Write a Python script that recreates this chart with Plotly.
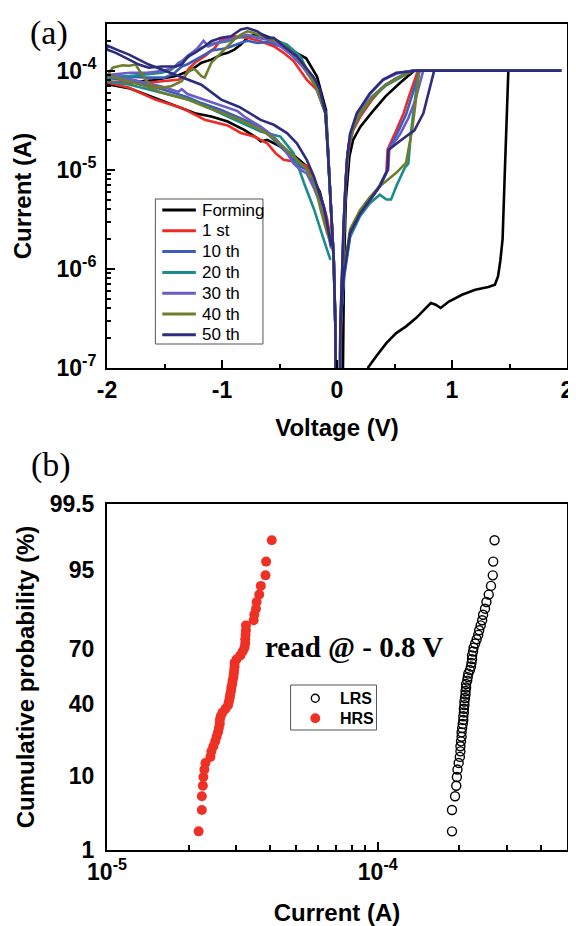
import plotly.graph_objects as go
from statistics import NormalDist

# ---------------- (a) I-V curves (V in volts, I in amperes) ----------------
# None separates the negative sweep from the positive sweep.
forming_v = [-0.003, -0.014, -0.028, -0.057, -0.096, -0.174, -0.268, -0.394, -0.519, -0.645, -0.72, -0.779, -0.836, -0.893, -0.951, -1.007, -1.093, -1.179, -1.265, -1.4, -1.6, -1.8, -2.0,
             -2.0, -1.8, -1.551, -1.379, -1.236, -1.093, -0.951, -0.807, -0.693, -0.664, -0.607, -0.492, -0.378, -0.263, -0.15, -0.1, -0.057,
             None,
             0.25, 0.272, 0.343, 0.429, 0.515, 0.601, 0.687, 0.773, 0.816, 0.858, 0.901, 0.973, 1.087, 1.202, 1.316, 1.373, 1.40, 1.42, 1.44, 1.46, 1.475, 1.49, 1.95,
             1.95, 0.673, 0.547, 0.422, 0.296, 0.202, 0.14, 0.108, 0.077, 0.061, 0.052, 0.045]
forming_i = [1e-9, 2.6e-7, 1.2e-6, 5.8e-6, 4.0e-5, 8.7e-5, 1.33e-4, 1.6e-4, 2.0e-4, 2.3e-4, 2.3e-4, 2.14e-4, 1.83e-4, 1.63e-4, 1.51e-4, 1.45e-4, 1.29e-4, 1.2e-4, 1.02e-4, 8.8e-5, 8.0e-5, 7.6e-5, 7.3e-5,
             7.3e-5, 6.6e-5, 5.1e-5, 4.34e-5, 3.72e-5, 3.44e-5, 3.06e-5, 2.52e-5, 2.08e-5, 1.93e-5, 2.0e-5, 1.71e-5, 1.41e-5, 1.08e-5, 6.0e-6, 3.6e-6, 1.9e-6,
             None,
             6.3e-8, 1.02e-7, 1.32e-7, 1.78e-7, 2.25e-7, 2.63e-7, 3.19e-7, 4.03e-7, 4.52e-7, 4.35e-7, 4.03e-7, 4.68e-7, 5.48e-7, 6.15e-7, 6.55e-7, 6.92e-7, 8.4e-7, 1.2e-6, 2.0e-6, 1.0e-5, 4.0e-5, 1e-4, 1e-4,
             1e-4, 1e-4, 7.5e-5, 5.5e-5, 3.7e-5, 2.7e-5, 2.0e-5, 1.36e-5, 5.0e-6, 1.07e-6, 1e-7, 1e-9]

c1_v = [-0.003, -0.014, -0.028, -0.057, -0.08, -0.1, -0.17, -0.263, -0.378, -0.464, -0.55, -0.664, -0.779, -0.893, -0.951, -1.007, -1.064, -1.15, -1.236, -1.293, -1.322, -1.379, -1.522, -1.666, -1.808, -2.0,
        -2.0, -1.808, -1.58, -1.35, -1.15, -0.951, -0.836, -0.722, -0.607, -0.535, -0.464, -0.378, -0.25, -0.2, -0.12, -0.086, -0.055,
        None,
        0.02, 0.029, 0.057, 0.114, 0.2, 0.286, 0.372, 0.43, 0.44, 0.516, 0.579, 0.626, 0.673, 0.704, 1.95,
        1.95, 0.66, 0.6, 0.5, 0.4, 0.3, 0.2, 0.14, 0.1, 0.075, 0.06, 0.035, 0.015]
c1_i = [1e-9, 2.6e-7, 1.2e-6, 5.8e-6, 1.6e-5, 3.7e-5, 6.3e-5, 8.1e-5, 1.25e-4, 1.51e-4, 1.76e-4, 1.98e-4, 2.14e-4, 2.22e-4, 2.14e-4, 2.06e-4, 1.69e-4, 1.40e-4, 1.20e-4, 1.03e-4, 8.8e-5, 8.1e-5, 7.8e-5, 7.5e-5, 7.5e-5, 7.8e-5,
        7.6e-5, 6.7e-5, 5.1e-5, 4.2e-5, 3.2e-5, 2.8e-5, 2.35e-5, 2.17e-5, 1.85e-5, 1.47e-5, 1.26e-5, 1.21e-5, 1.08e-5, 8.0e-6, 4.5e-6, 3.2e-6, 1.9e-6,
        None,
        1e-9, 2.6e-7, 8.3e-7, 2.3e-6, 3.6e-6, 5.0e-6, 6.8e-6, 9.5e-6, 1.6e-5, 2.5e-5, 3.7e-5, 5.5e-5, 8.1e-5, 1e-4, 1e-4,
        1e-4, 1e-4, 9.2e-5, 8.2e-5, 6.8e-5, 5.0e-5, 3.4e-5, 2.5e-5, 1.6e-5, 7.0e-6, 2.2e-6, 3e-7, 1e-9]

c10_v = [-0.003, -0.014, -0.03, -0.057, -0.08, -0.1, -0.17, -0.263, -0.378, -0.49, -0.6, -0.69, -0.78, -0.84, -0.95, -1.0, -1.09, -1.15, -1.24, -1.3, -1.35, -1.42, -1.5, -1.65, -1.8, -2.0,
         -2.0, -1.8, -1.52, -1.3, -1.179, -1.007, -0.836, -0.664, -0.55, -0.435, -0.32, -0.263, -0.2, -0.12, -0.07, -0.05,
         None,
         0.02, 0.03, 0.06, 0.12, 0.2, 0.29, 0.37, 0.44, 0.45, 0.53, 0.6, 0.65, 0.69, 0.72, 1.95,
         1.95, 0.65, 0.55, 0.42, 0.3, 0.2, 0.14, 0.1, 0.075, 0.058, 0.033, 0.014]
c10_i = [1e-9, 2.6e-7, 1.3e-6, 6.0e-6, 1.7e-5, 3.8e-5, 6.6e-5, 9.8e-5, 1.4e-4, 1.75e-4, 1.95e-4, 1.9e-4, 2.0e-4, 1.9e-4, 1.7e-4, 1.65e-4, 1.6e-4, 1.45e-4, 1.26e-4, 1.16e-4, 1.1e-4, 9.3e-5, 8.5e-5, 8.5e-5, 8.7e-5, 8.7e-5,
         8.5e-5, 7.8e-5, 6.5e-5, 5.4e-5, 4.7e-5, 4.0e-5, 3.3e-5, 2.7e-5, 2.0e-5, 1.47e-5, 1.08e-5, 1.0e-5, 7.0e-6, 4.0e-6, 2.2e-6, 1.7e-6,
         None,
         1e-9, 2.7e-7, 8.8e-7, 2.4e-6, 3.7e-6, 5.1e-6, 6.9e-6, 1.0e-5, 1.6e-5, 2.4e-5, 3.6e-5, 5.5e-5, 8.0e-5, 1e-4, 1e-4,
         1e-4, 1e-4, 8.8e-5, 7.2e-5, 5.4e-5, 3.8e-5, 2.7e-5, 1.75e-5, 8.0e-6, 2.6e-6, 3e-7, 1e-9]

c20_v = [-0.003, -0.014, -0.028, -0.057, -0.08, -0.1, -0.17, -0.263, -0.32, -0.435, -0.55, -0.664, -0.722, -0.779, -0.865, -0.951, -1.036, -1.122, -1.208, -1.265, -1.322, -1.379, -1.437, -1.522, -1.666, -1.808, -2.0,
         -2.0, -1.8, -1.52, -1.236, -0.951, -0.664, -0.492, -0.378, -0.286, -0.2, -0.114, -0.057,
         None,
         0.02, 0.029, 0.057, 0.114, 0.2, 0.286, 0.372, 0.43, 0.47, 0.52, 0.59, 0.62, 0.645, 0.67, 0.69, 0.71, 1.95,
         1.95, 0.66, 0.55, 0.42, 0.3, 0.2, 0.14, 0.1, 0.075, 0.058, 0.033, 0.014]
c20_i = [1e-9, 2.6e-7, 1.2e-6, 5.8e-6, 1.6e-5, 3.7e-5, 6.5e-5, 1.03e-4, 1.4e-4, 1.83e-4, 2.06e-4, 2.14e-4, 2.22e-4, 2.26e-4, 2.14e-4, 1.98e-4, 1.9e-4, 1.83e-4, 1.63e-4, 1.45e-4, 1.29e-4, 1.2e-4, 1.03e-4, 9.5e-5, 9.1e-5, 8.8e-5, 8.5e-5,
         7.8e-5, 7.2e-5, 6.0e-5, 4.9e-5, 3.44e-5, 2.43e-5, 2.16e-5, 1.47e-5, 7.3e-6, 4.0e-6, 1.95e-6, 1.23e-6,
         None,
         1e-9, 2.4e-7, 7.5e-7, 2.1e-6, 3.4e-6, 4.6e-6, 5.6e-6, 5.0e-6, 5.0e-6, 7.0e-6, 1.05e-5, 1.15e-5, 2.5e-5, 4.5e-5, 7.0e-5, 1e-4, 1e-4,
         1e-4, 1e-4, 8.5e-5, 7.0e-5, 5.2e-5, 3.6e-5, 2.6e-5, 1.7e-5, 7.5e-6, 2.4e-6, 3e-7, 1e-9]

c30_v = [-0.003, -0.014, -0.028, -0.057, -0.08, -0.1, -0.2, -0.3, -0.4, -0.5, -0.6, -0.7, -0.78, -0.85, -0.95, -1.05, -1.12, -1.16, -1.22, -1.3, -1.4, -1.5, -1.65, -1.8, -2.0,
         -2.0, -1.8, -1.5, -1.38, -1.35, -1.3, -1.15, -0.951, -0.865, -0.807, -0.664, -0.55, -0.464, -0.378, -0.32, -0.263, -0.2, -0.12, -0.07, -0.05,
         None,
         0.02, 0.029, 0.057, 0.114, 0.2, 0.286, 0.372, 0.445, 0.455, 0.55, 0.62, 0.68, 0.72, 0.75, 1.95,
         1.95, 0.68, 0.6, 0.515, 0.4, 0.286, 0.172, 0.114, 0.086, 0.057, 0.029, 0.012]
c30_i = [1e-9, 2.6e-7, 1.2e-6, 5.8e-6, 1.6e-5, 3.7e-5, 7.5e-5, 1.1e-4, 1.45e-4, 1.8e-4, 2.05e-4, 2.15e-4, 2.3e-4, 2.2e-4, 2.05e-4, 1.9e-4, 1.75e-4, 2.0e-4, 1.65e-4, 1.4e-4, 1.1e-4, 1.0e-4, 9.5e-5, 9.5e-5, 9.0e-5,
         8.8e-5, 8.2e-5, 6.8e-5, 6.1e-5, 6.5e-5, 5.8e-5, 5.07e-5, 4.17e-5, 3.9e-5, 3.44e-5, 2.73e-5, 2.16e-5, 1.66e-5, 1.16e-5, 1.0e-5, 9.2e-6, 6.5e-6, 3.8e-6, 2.1e-6, 1.6e-6,
         None,
         1e-9, 2.6e-7, 8.3e-7, 2.3e-6, 3.6e-6, 5.0e-6, 6.8e-6, 1.0e-5, 1.6e-5, 2.3e-5, 3.3e-5, 5.0e-5, 7.5e-5, 1e-4, 1e-4,
         1e-4, 1e-4, 9.8e-5, 9.3e-5, 8.0e-5, 5.8e-5, 3.6e-5, 2.25e-5, 1.25e-5, 2.7e-6, 2.6e-7, 1e-9]

c40_v = [-0.003, -0.014, -0.028, -0.057, -0.08, -0.1, -0.17, -0.263, -0.378, -0.492, -0.607, -0.722, -0.779, -0.836, -0.893, -0.951, -1.007, -1.093, -1.15, -1.179, -1.236, -1.265, -1.3, -1.351, -1.437, -1.522, -1.608, -1.666, -1.723, -1.751, -1.808, -1.866, -1.951, -2.0,
         -2.0, -1.866, -1.666, -1.522, -1.293, -1.15, -0.951, -0.807, -0.664, -0.55, -0.435, -0.32, -0.258, -0.229, -0.215, -0.143, -0.086, -0.057,
         None,
         0.02, 0.029, 0.057, 0.114, 0.2, 0.286, 0.372, 0.47, 0.515, 0.6, 0.655, 0.69, 0.715, 1.95,
         1.95, 0.66, 0.55, 0.42, 0.3, 0.2, 0.14, 0.1, 0.075, 0.058, 0.033, 0.014]
c40_i = [1e-9, 2.6e-7, 1.23e-6, 5.75e-6, 1.58e-5, 3.7e-5, 6.3e-5, 1.03e-4, 1.51e-4, 1.9e-4, 2.14e-4, 2.4e-4, 2.49e-4, 2.31e-4, 2.06e-4, 1.76e-4, 1.51e-4, 1.2e-4, 8.5e-5, 8.8e-5, 1.03e-4, 1.03e-4, 9.5e-5, 7.8e-5, 7.0e-5, 6.7e-5, 7.0e-5, 8.1e-5, 1.02e-4, 1.15e-4, 1.12e-4, 1.13e-4, 1.07e-4, 8.8e-5,
         9.1e-5, 8.1e-5, 7.0e-5, 6.0e-5, 5.07e-5, 4.34e-5, 3.57e-5, 3.06e-5, 2.52e-5, 2.08e-5, 1.58e-5, 1.16e-5, 1.0e-5, 8.3e-6, 9.0e-6, 4.0e-6, 2.3e-6, 1.9e-6,
         None,
         1e-9, 2.8e-7, 9.0e-7, 2.5e-6, 3.9e-6, 5.3e-6, 6.8e-6, 8.5e-6, 9.3e-6, 1.17e-5, 2.6e-5, 5.5e-5, 1e-4, 1e-4,
         1e-4, 1e-4, 8.7e-5, 7.1e-5, 5.3e-5, 3.7e-5, 2.65e-5, 1.72e-5, 7.8e-6, 2.5e-6, 3e-7, 1e-9]

c50_v = [-0.003, -0.014, -0.028, -0.057, -0.08, -0.1, -0.15, -0.2, -0.263, -0.349, -0.464, -0.55, -0.607, -0.693, -0.779, -0.836, -0.922, -1.007, -1.093, -1.15, -1.236, -1.293, -1.351, -1.408, -1.522, -1.637, -1.723, -1.808, -1.923, -2.0,
         -2.0, -1.9, -1.808, -1.637, -1.408, -1.18, -1.007, -0.85, -0.664, -0.55, -0.435, -0.349, -0.263, -0.2, -0.114, -0.07, -0.05,
         None,
         0.02, 0.029, 0.057, 0.114, 0.2, 0.286, 0.372, 0.44, 0.447, 0.547, 0.673, 0.751, 0.798, 0.845, 1.95,
         1.95, 0.69, 0.63, 0.515, 0.4, 0.286, 0.172, 0.114, 0.086, 0.057, 0.029, 0.012]
c50_i = [1e-9, 2.6e-7, 1.2e-6, 5.8e-6, 1.6e-5, 3.7e-5, 6.5e-5, 8.5e-5, 1.05e-4, 1.4e-4, 1.76e-4, 2.14e-4, 2.14e-4, 2.49e-4, 2.69e-4, 2.6e-4, 2.22e-4, 2.14e-4, 1.98e-4, 1.76e-4, 1.51e-4, 1.4e-4, 1.15e-4, 1.1e-4, 1.1e-4, 1.07e-4, 1.15e-4, 1.29e-4, 1.51e-4, 1.63e-4,
         1.79e-4, 1.6e-4, 1.45e-4, 1.15e-4, 9.1e-5, 7.2e-5, 5.1e-5, 4.3e-5, 3.18e-5, 2.84e-5, 2.34e-5, 1.85e-5, 1.26e-5, 8.5e-6, 4.2e-6, 2.3e-6, 1.7e-6,
         None,
         1e-9, 2.6e-7, 8.3e-7, 2.3e-6, 3.6e-6, 5.0e-6, 6.8e-6, 1.0e-5, 1.58e-5, 1.95e-5, 2.5e-5, 3.7e-5, 5.9e-5, 1e-4, 1e-4,
         1e-4, 1e-4, 9.8e-5, 9.5e-5, 8.1e-5, 5.9e-5, 3.7e-5, 2.3e-5, 1.26e-5, 2.7e-6, 2.6e-7, 1e-9]

curve_names = ["Forming", "1 st", "10 th", "20 th", "30 th", "40 th", "50 th"]
curve_colors = ["#000000", "#EE2A24", "#3D5DBE", "#1B8B8B", "#6A5EC6", "#6E7E2A", "#2D2C7F"]
curve_v = [forming_v, c1_v, c10_v, c20_v, c30_v, c40_v, c50_v]
curve_i = [forming_i, c1_i, c10_i, c20_i, c30_i, c40_i, c50_i]

v_ticks = [-2, -1, 0, 1, 2]
i_ticks = [1e-7, 1e-6, 1e-5, 1e-4]
i_tick_text = ["10<sup>-7</sup>", "10<sup>-6</sup>", "10<sup>-5</sup>", "10<sup>-4</sup>"]

# ---------------- (b) cumulative distributions (read @ -0.8 V) ----------------
lrs_current = [1.88e-4, 1.88e-4, 1.93e-4, 1.95e-4, 1.96e-4, 1.97e-4, 1.99e-4, 2.01e-4, 2.02e-4, 2.02e-4,
               2.03e-4, 2.04e-4, 2.04e-4, 2.05e-4, 2.06e-4, 2.07e-4, 2.07e-4, 2.08e-4, 2.08e-4, 2.09e-4,
               2.09e-4, 2.10e-4, 2.11e-4, 2.11e-4, 2.12e-4, 2.12e-4, 2.14e-4, 2.15e-4, 2.16e-4, 2.19e-4,
               2.21e-4, 2.22e-4, 2.23e-4, 2.23e-4, 2.25e-4, 2.26e-4, 2.29e-4, 2.32e-4, 2.35e-4, 2.37e-4,
               2.40e-4, 2.43e-4, 2.45e-4, 2.49e-4, 2.52e-4, 2.57e-4, 2.62e-4, 2.66e-4, 2.67e-4, 2.70e-4]
hrs_current = [2.18e-5, 2.24e-5, 2.24e-5, 2.26e-5, 2.27e-5, 2.29e-5, 2.31e-5, 2.41e-5, 2.43e-5, 2.47e-5,
               2.51e-5, 2.54e-5, 2.57e-5, 2.59e-5, 2.61e-5, 2.61e-5, 2.63e-5, 2.67e-5, 2.74e-5, 2.80e-5,
               2.82e-5, 2.84e-5, 2.85e-5, 2.87e-5, 2.88e-5, 2.90e-5, 2.91e-5, 2.93e-5, 2.94e-5, 2.95e-5,
               2.96e-5, 2.96e-5, 3.01e-5, 3.11e-5, 3.17e-5, 3.22e-5, 3.24e-5, 3.24e-5, 3.25e-5, 3.26e-5,
               3.26e-5, 3.48e-5, 3.50e-5, 3.55e-5, 3.57e-5, 3.65e-5, 3.70e-5, 3.85e-5, 3.87e-5, 4.06e-5]
prob_ticks = [1, 10, 40, 70, 95, 99.5]
cur_ticks = [1e-5, 1e-4]
cur_tick_text = ["10<sup>-5</sup>", "10<sup>-4</sup>"]
state_names = ["LRS", "HRS"]

nd = NormalDist()


def probit(values):
    """Cumulative probability (%) -> normal quantile, for the probability scale."""
    return [nd.inv_cdf(p / 100.0) for p in values]


def rank_prob(n):
    return [100.0 * (k + 1) / (n + 1) for k in range(n)]


# ---------------- layout helpers (page pixels -> paper fraction) ----------------
PLOT_L, PLOT_R, PLOT_T, PLOT_B = 107, 573, 24, 850   # plotting area on the page
BODY = 8                                            # default page body margin


def fx(x):
    return (x - PLOT_L) / (PLOT_R - PLOT_L)


def fy(y):
    return (PLOT_B - y) / (PLOT_B - PLOT_T)


SANS = "Liberation Sans, Arial, Helvetica, sans-serif"
SERIF = "Liberation Serif, Times New Roman, serif"
HRS_RED = "#EE3124"

fig = go.Figure()

for name, col, vv, ii in zip(curve_names, curve_colors, curve_v, curve_i):
    fig.add_trace(go.Scatter(x=vv, y=ii, mode="lines", name=name,
                             line=dict(color=col, width=2.6),
                             xaxis="x", yaxis="y", showlegend=False))

fig.add_trace(go.Scatter(x=lrs_current, y=probit(rank_prob(len(lrs_current))), mode="markers",
                         name="LRS", xaxis="x2", yaxis="y2", showlegend=False,
                         marker=dict(symbol="circle-open", size=9, color="black",
                                     line=dict(width=1.4, color="black"))))
fig.add_trace(go.Scatter(x=hrs_current, y=probit(rank_prob(len(hrs_current))), mode="markers",
                         name="HRS", xaxis="x2", yaxis="y2", showlegend=False,
                         marker=dict(symbol="circle", size=10, color=HRS_RED)))

axis_common = dict(showline=True, linecolor="black", linewidth=2, mirror=True,
                   showgrid=False, zeroline=False, ticks="inside", tickcolor="black",
                   tickwidth=2, tickfont=dict(family=SANS, size=23, color="black"),
                   ticklabeloverflow="allow")

minor_i = [m * d for d in (1e-7, 1e-6, 1e-5, 1e-4) for m in range(2, 10) if m * d < 3e-4]
minor_c = [m * d for d in (1e-5, 1e-4) for m in range(2, 10) if m * d < 5e-4]

# ---- hand-placed legends (to match the reference box geometry) ----
shapes = []
annotations = []

# legend (a)
shapes.append(dict(type="rect", xref="paper", yref="paper", x0=fx(156), x1=fx(265),
                   y0=fy(344), y1=fy(199), line=dict(color="#555555", width=1),
                   fillcolor="white", layer="above"))
row0, row_gap = 210.0, 20.8
for k, (name, col) in enumerate(zip(curve_names, curve_colors)):
    yy = row0 + k * row_gap
    shapes.append(dict(type="line", xref="paper", yref="paper", x0=fx(163), x1=fx(197),
                       y0=fy(yy), y1=fy(yy), line=dict(color=col, width=3), layer="above"))
    annotations.append(dict(text=name, xref="paper", yref="paper", x=fx(201), y=fy(yy),
                            xanchor="left", yanchor="middle", showarrow=False,
                            font=dict(family=SANS, size=17, color="black")))

# legend (b)
shapes.append(dict(type="rect", xref="paper", yref="paper", x0=fx(293), x1=fx(380),
                   y0=fy(730), y1=fy(685), line=dict(color="#555555", width=1),
                   fillcolor="white", layer="above"))
leg_b_rows = [698.3, 718.3]
shapes.append(dict(type="circle", xref="paper", yref="paper",
                   x0=fx(318 - 4), x1=fx(318 + 4), y0=fy(leg_b_rows[0] + 4), y1=fy(leg_b_rows[0] - 4),
                   line=dict(color="black", width=1.4), fillcolor="rgba(0,0,0,0)", layer="above"))
shapes.append(dict(type="circle", xref="paper", yref="paper",
                   x0=fx(318 - 5), x1=fx(318 + 5), y0=fy(leg_b_rows[1] + 5), y1=fy(leg_b_rows[1] - 5),
                   line=dict(color=HRS_RED, width=0), fillcolor=HRS_RED, layer="above"))
for name, yy in zip(state_names, leg_b_rows):
    annotations.append(dict(text="<b>%s</b>" % name, xref="paper", yref="paper", x=fx(341), y=fy(yy),
                            xanchor="left", yanchor="middle", showarrow=False,
                            font=dict(family=SANS, size=16, color="black")))

annotations += [
    dict(text="(a)", xref="paper", yref="paper", x=fx(48), y=fy(33),
         xanchor="center", yanchor="middle", showarrow=False,
         font=dict(family=SERIF, size=34, color="black")),
    dict(text="(b)", xref="paper", yref="paper", x=fx(50), y=fy(465),
         xanchor="center", yanchor="middle", showarrow=False,
         font=dict(family=SERIF, size=34, color="black")),
    dict(text="<b>read @ - 0.8 V</b>", xref="paper", yref="paper", x=fx(357), y=fy(647),
         xanchor="center", yanchor="middle", showarrow=False,
         font=dict(family=SERIF, size=29, color="black")),
]

W, H = 576 - BODY, 926 - BODY
fig.update_layout(
    width=W, height=H,
    margin=dict(l=PLOT_L - BODY, r=576 - PLOT_R, t=PLOT_T - BODY, b=926 - PLOT_B),
    paper_bgcolor="white", plot_bgcolor="white",
    font=dict(family=SANS, color="black"),
    showlegend=False,
    xaxis=dict(axis_common, domain=[0, 1], anchor="y", range=[-2, 2],
               tickmode="array", tickvals=v_ticks,
               ticktext=["<b>%d</b>" % t for t in v_ticks], ticklen=8,
               minor=dict(tickmode="array", tickvals=[-1.5, -0.5, 0.5, 1.5], ticks="inside",
                          ticklen=4, tickwidth=2, tickcolor="black"),
               title=dict(text="<b>Voltage (V)</b>", font=dict(family=SANS, size=24), standoff=18)),
    yaxis=dict(axis_common, domain=[fy(368), 1.0], anchor="x", type="log", range=[-7, -3.53],
               tickmode="array", tickvals=i_ticks,
               ticktext=["<b>%s</b>" % t for t in i_tick_text], ticklen=8, ticklabelstandoff=4,
               minor=dict(tickmode="array", tickvals=minor_i, ticks="inside",
                          ticklen=4, tickwidth=2, tickcolor="black"),
               title=dict(text="<b>Current (A)</b>", font=dict(family=SANS, size=24), standoff=18)),
    xaxis2=dict(axis_common, domain=[0, 1], anchor="y2", type="log", range=[-5, -3.301],
                tickmode="array", tickvals=cur_ticks,
                ticktext=["<b>%s</b>" % t for t in cur_tick_text], ticklen=8,
                minor=dict(tickmode="array", tickvals=minor_c, ticks="inside",
                           ticklen=5, tickwidth=2, tickcolor="black"),
                title=dict(text="<b>Current (A)</b>", font=dict(family=SANS, size=24), standoff=22)),
    yaxis2=dict(axis_common, domain=[0, fy(504)], anchor="x2",
                range=[nd.inv_cdf(0.01), nd.inv_cdf(0.995)],
                tickmode="array", tickvals=probit(prob_ticks),
                ticktext=["<b>%g</b>" % t for t in prob_ticks], ticks="", ticklabelstandoff=6,
                title=dict(text="<b>Cumulative probability (%)</b>", font=dict(family=SANS, size=24), standoff=8)),
    shapes=shapes,
    annotations=annotations,
)

fig.write_html("out.html")
